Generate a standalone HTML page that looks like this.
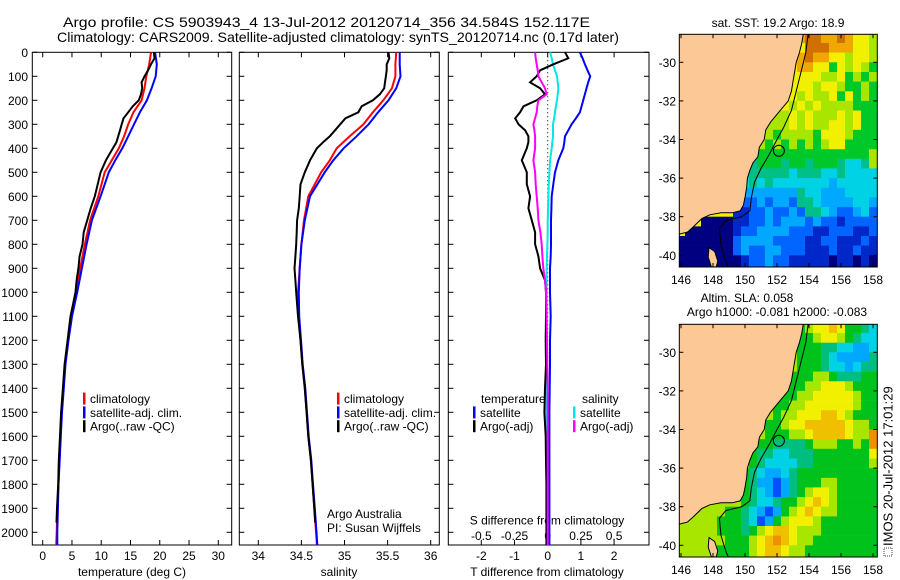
<!DOCTYPE html>
<html><head><meta charset="utf-8"><style>
html,body{margin:0;padding:0;background:#fff;}
svg{display:block;font-family:"Liberation Sans",sans-serif;}
</style></head><body>
<svg id="fig" width="900" height="580" viewBox="0 0 900 580" xmlns="http://www.w3.org/2000/svg">
<rect width="900" height="580" fill="#fff"/>
<text x="63" y="27" font-size="14" textLength="527" lengthAdjust="spacingAndGlyphs">Argo profile: CS 5903943_4 13-Jul-2012 20120714_356 34.584S 152.117E</text>
<text x="57" y="42" font-size="14" textLength="562" lengthAdjust="spacingAndGlyphs">Climatology: CARS2009. Satellite-adjusted climatology: synTS_20120714.nc (0.17d later)</text>
<g id="g"></g>
</svg>
<script>
// ---------- profile data ----------
const climDepth=[0,50,100,150,200,250,300,350,400,450,500,600,700,800,900,1000,1100,1200,1300,1400,1500,1600,1700,1800,1900,2000,2053];
const climTemp=[18.5,18.2,17.7,17.4,16.9,15.5,14.6,13.9,13.0,11.8,10.6,9.5,8.1,7.2,6.4,5.7,4.8,4.3,3.8,3.5,3.2,3.0,2.8,2.7,2.5,2.4,2.3];
const satTemp=[19.2,19.5,19.3,18.6,17.8,16.6,15.6,14.6,13.6,12.4,11.3,9.9,8.4,7.5,6.7,5.9,5.0,4.4,3.9,3.6,3.3,3.1,2.9,2.7,2.6,2.5,2.5];
const climSal=[35.60,35.59,35.59,35.55,35.45,35.33,35.22,35.06,34.91,34.83,34.73,34.58,34.53,34.50,34.48,34.46,34.47,34.49,34.51,34.54,34.56,34.58,34.61,34.63,34.65,34.67,34.68];
const satSal=[35.64,35.64,35.65,35.60,35.51,35.39,35.28,35.14,34.99,34.87,34.77,34.60,34.54,34.50,34.48,34.47,34.475,34.495,34.515,34.545,34.565,34.585,34.615,34.635,34.655,34.675,34.685];
const argoDepth=[0,25,50,75,100,125,150,175,200,225,250,275,300,325,350,375,400,450,500,550,600,650,700,750,800,850,900,950,1000,1100,1200,1300,1400,1500,1600,1700,1800,1900,1960];
const argoTemp=[19.0,19.1,18.5,18.0,17.4,16.9,17.0,16.8,16.4,15.4,14.6,13.8,13.5,13.2,12.9,12.6,12.0,10.8,9.9,9.4,8.9,8.2,7.6,7.0,6.8,6.3,6.1,5.8,5.6,4.75,4.25,3.75,3.45,3.15,2.95,2.75,2.65,2.45,2.35];
const argoSal=[35.51,35.52,35.49,35.49,35.48,35.47,35.46,35.41,35.33,35.20,35.16,35.01,34.95,34.89,34.83,34.75,34.68,34.60,34.54,34.49,34.48,34.47,34.45,34.445,34.44,34.43,34.42,34.43,34.44,34.46,34.49,34.51,34.54,34.56,34.58,34.61,34.63,34.65,34.66];
// differences
const diffDepth=[0,25,50,75,100,125,150,175,200,225,250,275,300,325,350,375,400,450,500,550,600,650,700,750,800,850,900,950,1000,1100,1200,1300,1400,1500,1600,1700,1800,1900,2000,2053];
const diffTsat=[0.97,1.05,1.12,1.2,1.28,1.22,1.17,1.12,1.07,1.02,0.97,0.85,0.72,0.62,0.52,0.5,0.47,0.32,0.22,0.17,0.12,0.11,0.10,0.10,0.10,0.09,0.07,0.07,0.07,0.09,0.07,0.07,0.06,0.05,0.05,0.05,0.05,0.05,0.05,0.05];
const diffTargo=[0.52,0.62,0.17,-0.23,-0.33,-0.53,-0.23,-0.08,-0.33,-0.73,-0.83,-0.98,-0.88,-0.68,-0.58,-0.58,-0.63,-0.78,-0.63,-0.63,-0.53,-0.58,-0.48,-0.38,-0.38,-0.28,-0.23,-0.08,-0.05,-0.05,-0.06,-0.05,-0.08,-0.1,-0.06,-0.05,-0.04,-0.04,-0.04,-0.04];
const diffSsat=[0.018,0.03,0.04,0.055,0.07,0.075,0.08,0.075,0.07,0.062,0.055,0.048,0.04,0.04,0.04,0.035,0.03,0.018,0.013,0.008,0.005,0.003,0.0,0.0,-0.002,-0.005,-0.008,-0.008,-0.008,-0.008,-0.008,-0.008,-0.008,-0.008,-0.008,-0.008,-0.008,-0.008,-0.008,-0.008];
const diffSargo=[-0.095,-0.09,-0.083,-0.075,-0.07,-0.045,-0.02,-0.008,-0.07,-0.078,-0.083,-0.095,-0.108,-0.1,-0.095,-0.095,-0.095,-0.108,-0.095,-0.09,-0.083,-0.075,-0.07,-0.055,-0.045,-0.04,-0.033,-0.02,-0.013,-0.008,-0.005,-0.003,0.0,0.0,0.0,0.0,0.0,0.0,0.0,0.0];
// axis ticks
const depthTicks=[0,100,200,300,400,500,600,700,800,900,1000,1100,1200,1300,1400,1500,1600,1700,1800,1900,2000];
const tempTicks=[0,5,10,15,20,25,30];
const salTicks=[34,34.5,35,35.5,36];
const salTickLabels=["34","34.5","35","35.5","36"];
const tdiffTicks=[-2,-1,0,1,2];
const sdiffTicks=[-0.5,-0.25,0,0.25,0.5];
const sdiffTickLabels=["-0.5","-0.25","0","0.25","0.5"];
// ---------- map data (0.5 deg cells, rows from -28.75 southwards, cols from 146E) ----------
const mapLatTicks=[-30,-32,-34,-36,-38,-40];
const mapLonTicks=[146,148,150,152,154,156,158];
const sstRows=[
"8888888888888889AA99A9887",
"8888888888888888AAA999887",
"8888888888888889A99887887",
"8888888888888889988687876",
"8888888888888888887786767",
"8888888888888888878876676",
"8888888888888887877868676",
"8888888888888878787777666",
"8888888888887787877787866",
"8888888888877787877887866",
"8888888888776777768887666",
"8888888888767676767886666",
"8888888886666666666666667",
"8888888855666566566654457",
"8888888555555545554454444",
"8888884445454444444344444",
"8888883333333335443334444",
"8888882322323325543333443",
"8888888112232232554322342",
"8880000112232333232212222",
"8000000122333322211222112",
"0000000233332222112211121",
"0000000232233222111211211",
"0000000012232211111011010",
"0000000012232211111011010"];
const slaRows=[
"5555555555555554566764432",
"5555555555555554456654322",
"5555555555555554443322112",
"5555555555555554443211113",
"5555555555555554443221233",
"5555555555555544455433344",
"5555555555555444556665444",
"5555555555555445566666544",
"5555555555554455666666544",
"5555555555554556667765444",
"5555555555544566777776554",
"5555555555544455677776558",
"5555555555443333455544548",
"5555555554332233344444446",
"5555555554322223344444445",
"5555555543211234444444444",
"5555555543110134445544444",
"5555555543210134566544444",
"5555555543223445676544444",
"5555554432101456765544444",
"5555544432014566654444444",
"5555544434567765554444444",
"5555554445678765544444444",
"5555544445677655444444444",
"5555544445677655444444444"];
const sstColors=['#000080','#0028c8','#0064ff','#00a8ff','#00d2e6','#00c088','#00c828','#a8e600','#f0f000','#f0a800','#d07000'];
const slaColors=['#0050ff','#00a8ff','#00d2e6','#00be80','#00c21a','#a8e600','#f0f000','#f0c000','#f09000'];
const coastLon=[153.65,153.55,153.4,153.2,153.1,153.0,152.9,152.7,152.3,151.9,151.6,151.3,151.2,150.9,150.8,150.5,150.3,150.15,150.1,150.0,149.9,149.7,149.2,148.5,147.8,147.3,146.8,146.4,145.9];
const coastLat=[-28.5,-29,-29.5,-30,-30.5,-31,-31.5,-32,-32.4,-32.8,-33.1,-33.5,-34,-34.4,-34.9,-35.2,-35.6,-36,-36.5,-37,-37.4,-37.7,-37.8,-37.8,-37.9,-38.1,-38.5,-38.8,-38.9];
const shelfLon=[153.95,153.8,153.5,153.2,152.9,152.4,152.0,151.5,151.0,150.6,150.4,150.3,149.8,148.8,148.4,148.5,148.8,149.0];
const shelfLat=[-28.5,-29.5,-30.5,-31.5,-32.5,-33.4,-34,-34.8,-35.5,-36.2,-37,-37.7,-38,-38.2,-38.6,-39.5,-40.3,-40.7];
const islandLon=[147.75,148.1,148.3,148.2,147.9,147.7];
const islandLat=[-39.6,-39.8,-40.3,-40.6,-40.6,-40.1];
const argoLon=152.117, argoLat=-34.584;

// ---------- drawing ----------
const NS='http://www.w3.org/2000/svg';
const G=document.getElementById('g');
function mk(tag,attrs,parent){const e=document.createElementNS(NS,tag);for(const k in attrs)e.setAttribute(k,attrs[k]);(parent||G).appendChild(e);return e;}
function txt(x,y,s,size,anchor,parent){const t=mk('text',{x:x,y:y,'font-size':size,'text-anchor':anchor||'start'},parent);t.textContent=s;return t;}
const Y0=52.3,YB=545,DPX=0.24;
function yD(d){return Y0+d*DPX;}
const P1={l:32.3,r:231.7},P2={l:239.3,r:439.3},P3={l:448.3,r:649};
function xT(t){return 42.7+t*5.853;}
function xS(s){return 258.3+(s-34)*86.2;}
function xDT(t){return 547.7+t*33.2;}
function xDS(s){return 547.7+s*132.8;}

function panelBox(p,name){
  const r=mk('rect',{x:p.l,y:Y0,width:p.r-p.l,height:YB-Y0,fill:'none',stroke:'#000','stroke-width':1});
  
  
  depthTicks.forEach(d=>{const y=yD(d);mk('line',{x1:p.l,x2:p.l+5,y1:y,y2:y,stroke:'#000'});mk('line',{x1:p.r-5,x2:p.r,y1:y,y2:y,stroke:'#000'});});
}
function xticks(p,vals,fx,labels,ly){
  vals.forEach((v,i)=>{const x=fx(v);mk('line',{x1:x,x2:x,y1:YB-5,y2:YB,stroke:'#000'});mk('line',{x1:x,x2:x,y1:Y0,y2:Y0+5,stroke:'#000'});
    if(labels){const t=txt(x,ly,labels[i],12,'middle');}});
}
function line(xs,ds,fx,color,name,w){
  const pts=xs.map((v,i)=>fx(v).toFixed(1)+','+yD(ds[i]).toFixed(1)).join(' ');
  const pl=mk('polyline',{points:pts,fill:'none',stroke:color,'stroke-width':w||2,'stroke-linejoin':'miter'});
  
  
}
function legendRow(x,y,color,label,name){
  mk('rect',{x:x,y:y-6,width:2.5,height:12,fill:color});
  const t=txt(x+7,y+4.5,label,12);
  
  
}

// panel 1
panelBox(P1,'temperature-axes');
depthTicks.forEach(d=>{const t=txt(28,yD(d)+4.5,String(d),12,'end');});
xticks(P1,tempTicks,xT,tempTicks.map(String),560);
let xl=txt(132,576,'temperature (deg C)',12,'middle');


line(climTemp,climDepth,xT,'#f00','temp-climatology-line');
line(satTemp,climDepth,xT,'#00f','temp-satellite-line');
line(argoTemp,argoDepth,xT,'#000','temp-argo-line');
legendRow(83,398.6,'#f00','climatology','legend-climatology');
legendRow(83,412.4,'#00f','satellite-adj. clim.','legend-satellite');
legendRow(83,426.2,'#000','Argo(..raw -QC)','legend-argo');

// panel 2
panelBox(P2,'salinity-axes');
xticks(P2,salTicks,xS,salTickLabels,560);
xl=txt(339,576,'salinity',12,'middle');


line(climSal,climDepth,xS,'#f00','sal-climatology-line');
line(satSal,climDepth,xS,'#00f','sal-satellite-line');
line(argoSal,argoDepth,xS,'#000','sal-argo-line');
legendRow(337,398.6,'#f00','climatology','legend-climatology-2');
legendRow(337,412.4,'#00f','satellite-adj. clim.','legend-satellite-2');
legendRow(337,426.2,'#000','Argo(..raw -QC)','legend-argo-2');
let cr=txt(327,518,'Argo Australia',12);


cr=txt(327,532,'PI: Susan Wijffels',12);



// panel 3
panelBox(P3,'difference-axes');
mk('line',{x1:xDT(0),x2:xDT(0),y1:Y0,y2:YB,stroke:'#000','stroke-dasharray':'1,3'});
xticks(P3,tdiffTicks,xDT,tdiffTicks.map(String),560);
sdiffTicks.forEach((v,i)=>{const t=txt(xDS(v),540,sdiffTickLabels[i],12,'middle');});
xl=txt(547,576,'T difference from climatology',12,'middle');


xl=txt(547,524.5,'S difference from climatology',12,'middle');


line(diffTsat,diffDepth,xDT,'#00f','tdiff-satellite-line');
line(diffSsat,diffDepth,xDS,'#00e8e8','sdiff-satellite-line');
line(diffTargo,diffDepth,xDT,'#000','tdiff-argo-line');
line(diffSargo,diffDepth,xDS,'#f0f','sdiff-argo-line');
let lt=txt(481,403,'temperature',12);


lt=txt(582,403,'salinity',12);


legendRow(473,412.4,'#00f','satellite','legend-t-satellite');
legendRow(473,426.2,'#000','Argo(-adj)','legend-t-argo');
legendRow(573,412.4,'#00e8e8','satellite','legend-s-satellite');
legendRow(573,426.2,'#f0f','Argo(-adj)','legend-s-argo');

// maps
function drawMap(top,rows,colors,name,cid){
  const L=679.3,R=877.3,T=top,B=top+232.7;
  const lx=lon=>681+(lon-146)*16;
  const ly=lat=>top+28+(-30-lat)*19.3;
  const defs=mk('defs',{});
  const cp=mk('clipPath',{id:cid},defs);
  mk('rect',{x:L,y:T,width:R-L,height:B-T},cp);
  const g=mk('g',{'clip-path':'url(#'+cid+')'});
  
  
  rows.forEach((row,i)=>{
    const lat=-28.75-0.5*i;
    for(let j=0;j<row.length;j++){
      const v=parseInt(row[j],16);
      const lon=146+0.5*j;
      const x0=lx(lon-0.25),x1=lx(lon+0.25+(j==row.length-1?0.5:0));
      const y0=ly(lat+0.25+(i==0?0.5:0)),y1=ly(lat-0.25);
      const c=mk('rect',{x:x0.toFixed(1),y:y0.toFixed(1),width:(x1-x0+0.3).toFixed(1),height:(y1-y0+0.3).toFixed(1),fill:colors[v]},g);
      
      
    }
  });
  let pts=coastLon.map((lo,i)=>lx(lo).toFixed(1)+','+ly(coastLat[i]).toFixed(1));
  const land=mk('polygon',{points:(lx(145.5)+','+ly(-28.3)+' '+pts.join(' ')+' '+lx(145.5)+','+ly(-38.9)),fill:'#fcc996',stroke:'#000','stroke-width':1},g);
  
  
  const isl=mk('polygon',{points:islandLon.map((lo,i)=>lx(lo).toFixed(1)+','+ly(islandLat[i]).toFixed(1)).join(' '),fill:'#fcc996',stroke:'#000','stroke-width':1},g);
  
  
  const sh=mk('polyline',{points:shelfLon.map((lo,i)=>lx(lo).toFixed(1)+','+ly(shelfLat[i]).toFixed(1)).join(' '),fill:'none',stroke:'#000','stroke-width':1},g);
  
  
  const m=mk('circle',{cx:lx(argoLon),cy:ly(argoLat),r:5.5,fill:'none',stroke:'#000','stroke-width':1});
  
  
  const box=mk('rect',{x:L,y:T,width:R-L,height:B-T,fill:'none',stroke:'#000'});
  
  
  mapLatTicks.forEach(la=>{const y=ly(la);mk('line',{x1:L,x2:L+4,y1:y,y2:y,stroke:'#000'});mk('line',{x1:R-4,x2:R,y1:y,y2:y,stroke:'#000'});
    const t=txt(676,y+4.5,String(la),12,'end');});
  mapLonTicks.forEach(lo=>{const x=lx(lo);mk('line',{x1:x,x2:x,y1:B-4,y2:B,stroke:'#000'});mk('line',{x1:x,x2:x,y1:T,y2:T+4,stroke:'#000'});
    const t=txt(x,B+17,String(lo),12,'middle');});
}
drawMap(34.3,sstRows,sstColors,'sst-map','c1');
drawMap(324.3,slaRows,slaColors,'sla-map','c2');
let mt=txt(778,27,'sat. SST: 19.2  Argo: 18.9',12,'middle');


mt=txt(747,302,'Altim. SLA: 0.058',12,'middle');


mt=txt(777,316,'Argo h1000: -0.081  h2000: -0.083',12,'middle');


const vt=txt(0,0,'IMOS 20-Jul-2012 17:01:29',13,'start');
vt.setAttribute('transform','translate(892.5,546) rotate(-90)');


mk('rect',{x:884,y:548,width:8,height:8,fill:'none',stroke:'#444','stroke-dasharray':'1,1'});
</script>
</body></html>
